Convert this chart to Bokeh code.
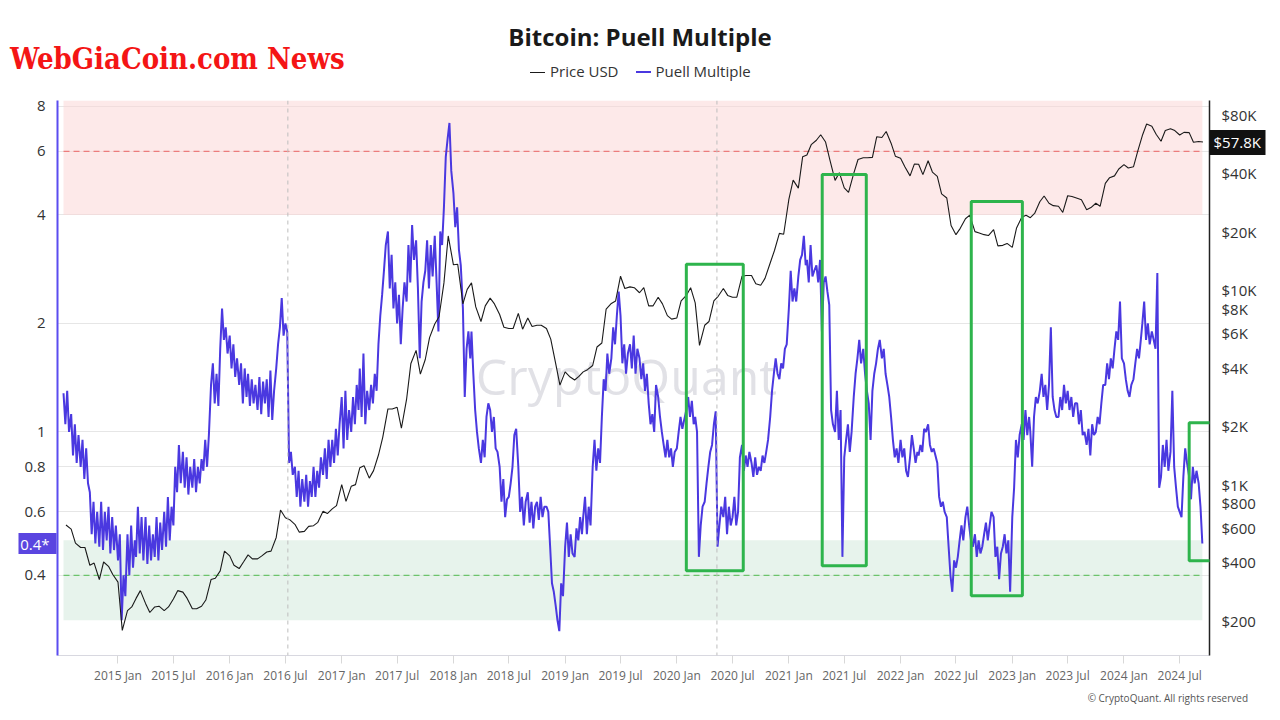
import pandas as pd
from bokeh.plotting import figure
from bokeh.layouts import column
from bokeh.models import (Range1d, LogScale, LogAxis, FixedTicker, BoxAnnotation, Span,
                          Label, Div, DatetimeTickFormatter)
from bokeh.embed import file_html
from bokeh.resources import INLINE

# ---------------- data ----------------
# Puell Multiple, sampled on days 1, 7, 13, 19, 25 of each month (2014-07-07 .. 2024-09-13)
puell_2014 = [1.28, 1.05, 1.30, 1.00,
              1.12, 0.86, 1.05, 0.82, 0.98,
              0.80, 0.95, 0.74, 0.90, 0.72,
              0.68, 0.52, 0.64, 0.49, 0.60,
              0.48, 0.64, 0.47, 0.60, 0.50,
              0.62, 0.46, 0.58, 0.47, 0.55]
puell_2015 = [0.44, 0.52, 0.30, 0.40, 0.35,
              0.52, 0.40, 0.55, 0.42, 0.50,
              0.45, 0.62, 0.46, 0.58, 0.44,
              0.58, 0.43, 0.55, 0.44, 0.52,
              0.45, 0.58, 0.44, 0.56, 0.47,
              0.60, 0.48, 0.66, 0.50, 0.62,
              0.55, 0.80, 0.68, 0.92, 0.72,
              0.88, 0.70, 0.85, 0.67, 0.80,
              0.70, 0.84, 0.68, 0.80, 0.72,
              0.84, 0.78, 0.95, 0.80, 0.98,
              1.35, 1.55, 1.20, 1.45, 1.18,
              1.70, 2.20, 1.80, 1.95, 1.65]
puell_2016 = [1.85, 1.50, 1.75, 1.42, 1.60,
              1.35, 1.55, 1.20, 1.50, 1.25,
              1.45, 1.18, 1.40, 1.20, 1.35,
              1.15, 1.42, 1.12, 1.38, 1.20,
              1.40, 1.10, 1.48, 1.08, 1.30,
              1.50, 1.75, 1.95, 2.35, 1.85,
              2.00, 1.90, 0.82, 0.88, 0.76,
              0.80, 0.66, 0.78, 0.62, 0.74,
              0.64, 0.76, 0.62, 0.73, 0.66,
              0.80, 0.66, 0.78, 0.70, 0.85,
              0.76, 0.90, 0.74, 0.95, 0.80,
              0.95, 0.82, 1.02, 0.86, 1.05]
puell_2017 = [1.25, 0.90, 1.30, 0.95, 1.15,
              1.00, 1.25, 1.05, 1.35, 1.15,
              1.50, 1.10, 1.65, 1.05, 1.30,
              1.15, 1.35, 1.20, 1.45, 1.30,
              1.75, 2.10, 2.40, 2.80, 3.30,
              3.60, 2.50, 3.10, 2.20, 2.60,
              2.00, 2.40, 1.75, 2.20, 2.60,
              2.30, 3.30, 2.60, 3.75, 3.00,
              3.40, 2.50, 1.60, 2.30, 2.60,
              2.80, 3.40, 2.50, 3.30, 2.70,
              3.50, 2.60, 1.90, 3.60, 3.30,
              4.20, 5.80, 6.50, 7.20, 5.30]
puell_2018 = [4.60, 3.70, 4.20, 3.20, 2.90,
              2.20, 1.25, 1.70, 1.90, 1.60,
              1.90, 1.45, 1.15, 1.00, 0.90,
              0.82, 0.95, 0.85, 1.10, 1.20,
              1.15, 1.00, 1.10, 0.90, 0.88,
              0.80, 0.64, 0.74, 0.58, 0.65,
              0.66, 0.72, 0.80, 0.98, 1.02,
              0.80, 0.60, 0.66, 0.55, 0.64,
              0.68, 0.56, 0.64, 0.54, 0.62,
              0.64, 0.57, 0.66, 0.58, 0.62,
              0.62, 0.60, 0.48, 0.38, 0.36,
              0.33, 0.30, 0.28, 0.38, 0.35]
puell_2019 = [0.48, 0.56, 0.45, 0.52, 0.46,
              0.45, 0.54, 0.50, 0.58, 0.52,
              0.58, 0.66, 0.52, 0.62, 0.55,
              0.80, 0.95, 0.78, 0.90, 0.82,
              1.10, 1.40, 1.30, 1.65, 1.45,
              1.60, 1.95, 1.75, 2.10, 2.45,
              2.10, 1.55, 1.75, 1.45, 1.65,
              1.75, 1.50, 1.85, 1.45, 1.70,
              1.60, 1.40, 1.55, 1.30, 1.45,
              1.20, 1.05, 1.12, 1.00, 1.35,
              1.25, 1.10, 1.00, 0.92, 0.85,
              0.95, 0.85, 0.90, 0.80, 0.88]
puell_2020 = [0.90, 1.00, 1.10, 1.02, 1.08,
              1.15, 1.25, 1.10, 1.22, 1.05,
              1.10, 1.00, 0.45, 0.55, 0.62,
              0.64, 0.72, 0.80, 0.88, 0.92,
              1.05, 1.14, 0.48, 0.55, 0.62,
              0.58, 0.66, 0.52, 0.62, 0.55,
              0.58, 0.66, 0.55, 0.60, 0.85,
              0.92, 0.78, 0.86, 0.80, 0.88,
              0.82, 0.75, 0.85, 0.76, 0.80,
              0.78, 0.86, 0.82, 0.88, 0.95,
              1.10, 1.30, 1.45, 1.60, 1.45,
              1.40, 1.55, 1.50, 1.70, 1.75]
puell_2021 = [2.20, 2.80, 2.30, 2.50, 2.30,
              2.70, 3.00, 3.10, 3.50, 2.90,
              3.00, 2.60, 3.30, 2.70, 2.80,
              2.90, 2.60, 3.00, 1.90, 2.60,
              2.70, 2.45, 2.25, 1.15, 1.05,
              1.00, 1.30, 0.95, 1.15, 0.45,
              0.85, 0.95, 1.05, 0.88, 1.00,
              1.25, 1.45, 1.60, 1.80, 1.55,
              1.70, 1.45, 1.30, 1.20, 0.95,
              1.30, 1.45, 1.55, 1.70, 1.80,
              1.60, 1.70, 1.45, 1.35, 1.25,
              1.10, 0.95, 0.85, 0.90, 0.82]
puell_2022 = [0.95, 0.85, 0.90, 0.78, 0.75,
              0.85, 0.98, 0.90, 0.82, 0.88,
              0.86, 0.92, 0.88, 1.02, 1.00,
              1.05, 0.92, 0.88, 0.90, 0.86,
              0.82, 0.66, 0.62, 0.64, 0.60,
              0.58, 0.48, 0.40, 0.36, 0.44,
              0.42, 0.45, 0.50, 0.55, 0.50,
              0.58, 0.62, 0.55, 0.50, 0.48,
              0.52, 0.45, 0.50, 0.46, 0.48,
              0.52, 0.56, 0.50, 0.55, 0.60,
              0.58, 0.45, 0.48, 0.39, 0.46,
              0.48, 0.52, 0.46, 0.50, 0.36]
puell_2023 = [0.58, 0.70, 0.95, 0.85, 0.98,
              1.05, 0.95, 1.15, 0.98, 1.10,
              1.00, 0.80, 1.10, 1.25, 1.20,
              1.30, 1.45, 1.25, 1.35, 1.15,
              1.35, 1.95, 1.25, 1.15, 1.10,
              1.10, 1.25, 1.15, 1.35, 1.20,
              1.30, 1.15, 1.25, 1.10, 1.20,
              1.20, 1.05, 1.15, 0.98, 1.00,
              0.92, 1.02, 0.86, 1.05, 0.98,
              1.00, 1.10, 1.05, 1.20, 1.35,
              1.35, 1.55, 1.40, 1.60, 1.50,
              1.70, 1.90, 1.80, 2.30, 1.60]
puell_2024 = [1.55, 1.40, 1.30, 1.25, 1.35,
              1.40, 1.55, 1.70, 1.60, 1.80,
              2.00, 2.30, 1.80, 2.00, 1.75,
              1.90, 1.80, 1.70, 2.76, 0.70,
              0.75, 0.92, 0.80, 0.95, 0.78,
              0.88, 1.30, 0.80, 0.70, 0.62,
              0.60, 0.58, 0.75, 0.90, 0.82,
              0.75, 0.65, 0.80, 0.72, 0.78,
              0.72, 0.62, 0.49]

# Price USD, sampled on the 1st and 15th of each month (2014-07-15 .. 2024-09-15)
price_2014 = [620, 590, 500, 475, 475, 385, 395, 325, 400, 380, 345]
price_2015 = [315, 178, 225, 235, 260, 285, 245, 220, 235, 237, 225, 235,
              258, 285, 280, 260, 230, 230, 237, 255, 325, 330, 360, 455]
price_2016 = [430, 385, 370, 400, 435, 415, 415, 430, 450, 455, 535, 740,
              675, 660, 625, 570, 575, 610, 615, 640, 730, 710, 750, 780]
price_2017 = [1000, 820, 980, 1000, 1220, 1250, 1080, 1180, 1420, 1750, 2450, 2450,
              2500, 1950, 2750, 4200, 4900, 3700, 4400, 5700, 6700, 7300, 10900, 19000]
price_2018 = [13500, 13600, 8500, 10100, 10900, 8200, 6900, 8300, 9100, 8500, 7500, 6450,
              6350, 6350, 7600, 6300, 7200, 6500, 6600, 6600, 6350, 5600, 4200, 3250]
price_2019 = [3800, 3600, 3450, 3600, 3800, 3900, 4100, 5100, 5350, 8000, 8550, 8800,
              11800, 10200, 10400, 10300, 9700, 10300, 8300, 8300, 9200, 8500, 7400, 7100]
price_2020 = [7200, 8800, 9400, 10300, 8600, 5200, 6600, 6900, 8800, 9300, 10200, 9400,
              9200, 9200, 11800, 11900, 11900, 10800, 10600, 11500, 13800, 16000, 19600, 19400]
price_2021 = [29300, 36800, 33500, 48500, 49600, 56000, 59000, 63000, 57800, 46800, 36700, 40200,
              33600, 31800, 39900, 47000, 48000, 48000, 48200, 61500, 61000, 65500, 57000, 48900]
price_2022 = [47700, 43100, 38700, 44500, 44400, 39300, 46300, 40500, 38500, 31300, 29800, 21500,
              19300, 20800, 23300, 24300, 20000, 19700, 19300, 19100, 20500, 16900, 17000, 17400]
price_2023 = [16600, 20900, 23700, 24300, 23600, 24800, 28500, 30500, 28000, 27200, 27000, 25100,
              30600, 30300, 29700, 29200, 25900, 26600, 28000, 27000, 35400, 37900, 38700, 42000]
price_2024 = [44200, 42500, 43100, 51900, 62400, 71500, 69700, 63400, 58300, 66200, 67700, 66200,
              62800, 64800, 64600, 57600, 58200, 57800]

puell_ticks = [0.4, 0.6, 0.8, 1, 2, 4, 6, 8]
puell_tick_labels = ["0.4", "0.6", "0.8", "1", "2", "4", "6", "8"]
price_ticks = [200, 400, 600, 800, 1000, 2000, 4000, 6000, 8000, 10000, 20000, 40000, 80000]
price_tick_labels = ["$200", "$400", "$600", "$800", "$1K", "$2K", "$4K", "$6K", "$8K",
                     "$10K", "$20K", "$40K", "$80K"]
x_tick_labels = ["2015 Jan", "2015 Jul", "2016 Jan", "2016 Jul", "2017 Jan", "2017 Jul",
                 "2018 Jan", "2018 Jul", "2019 Jan", "2019 Jul", "2020 Jan", "2020 Jul",
                 "2021 Jan", "2021 Jul", "2022 Jan", "2022 Jul", "2023 Jan", "2023 Jul",
                 "2024 Jan", "2024 Jul"]
halving_dates = ["2016-07-09", "2020-05-11"]
red_zone = [4.0, 8.31]        # Puell band (overvalued)
green_zone = [0.3, 0.5]       # Puell band (undervalued)
red_line_level = 6.0
green_line_level = 0.4
current_puell_label = "0.4*"
series_names = ["Price USD", "Puell Multiple"]
# highlighted periods: (start, end, low Puell, high Puell)
highlight_boxes = [("2020-02-01", "2020-08-05", 0.412, 2.92),
                   ("2021-04-20", "2021-09-11", 0.425, 5.18),
                   ("2022-08-20", "2023-02-03", 0.351, 4.36),
                   ("2024-08-01", "2024-10-25", 0.439, 1.06)]


def sample_dates(first, last, days):
    out = []
    y, m = first.year, first.month
    while (y, m) <= (last.year, last.month):
        for d in days:
            t = pd.Timestamp(y, m, d)
            if first <= t <= last:
                out.append(t)
        m += 1
        if m == 13:
            y, m = y + 1, 1
    return out


puell = (puell_2014 + puell_2015 + puell_2016 + puell_2017 + puell_2018 + puell_2019 +
         puell_2020 + puell_2021 + puell_2022 + puell_2023 + puell_2024)
price = (price_2014 + price_2015 + price_2016 + price_2017 + price_2018 + price_2019 +
         price_2020 + price_2021 + price_2022 + price_2023 + price_2024)
puell_dates = sample_dates(pd.Timestamp("2014-07-07"), pd.Timestamp("2024-09-13"), [1, 7, 13, 19, 25])
price_dates = sample_dates(pd.Timestamp("2014-07-15"), pd.Timestamp("2024-09-15"), [1, 15])
n1 = min(len(puell), len(puell_dates))
n2 = min(len(price), len(price_dates))
puell, puell_dates = puell[:n1], puell_dates[:n1]
price, price_dates = price[:n2], price_dates[:n2]


def ms(t):
    return pd.Timestamp(t).value / 1e6


PUELL_C = "#4a38e0"
PRICE_C = "#1a1a1a"
FONT = "Open Sans"
W = 1272
x_start = pd.Timestamp("2014-06-17 08:00")
x_end = pd.Timestamp("2024-10-06 10:00")

# ---------------- header (brand, title, legend) ----------------
header_html = f"""
<div style="position:relative;width:{W}px;height:90px;">
  <div style="position:absolute;left:10px;top:41px;font-family:'DejaVu Serif';font-stretch:condensed;
       font-weight:bold;font-size:29px;line-height:36px;color:#f41515;white-space:nowrap;">WebGiaCoin.com News</div>
  <div style="position:absolute;left:0;top:20px;width:1280px;text-align:center;font-family:'{FONT}';
       font-weight:bold;font-size:24px;line-height:34px;color:#1a1a1a;white-space:nowrap;">Bitcoin: Puell Multiple</div>
  <div style="position:absolute;left:530px;top:62px;height:20px;display:flex;align-items:center;
       font-family:'{FONT}';font-size:15px;color:#333333;white-space:nowrap;">
    <span style="display:inline-block;width:15px;height:0;border-top:1.3px solid {PRICE_C};margin-right:5px;"></span><span>{series_names[0]}</span>
    <span style="display:inline-block;width:15px;height:0;border-top:2px solid {PUELL_C};margin-left:17px;margin-right:5px;"></span><span>{series_names[1]}</span>
  </div>
</div>"""
header = Div(text=header_html, width=W, height=90, margin=0)

# ---------------- main chart ----------------
p = figure(width=W, height=596, x_axis_type="datetime", y_axis_type="log",
           x_range=Range1d(x_start, x_end), y_range=Range1d(0.2396, 8.31),
           output_backend="svg", toolbar_location=None, title=None,
           min_border_left=57, min_border_right=63, min_border_top=10, min_border_bottom=30)
p.outline_line_color = None
p.background_fill_color = "white"
p.border_fill_color = "white"

p.extra_y_ranges = {"price": Range1d(132.2, 94500)}
p.extra_y_scales = {"price": LogScale()}

p.xgrid.grid_line_color = None
p.ygrid.ticker = FixedTicker(ticks=puell_ticks)
p.ygrid.grid_line_color = "#e6e6e6"

start_ms, end_ms = ms(puell_dates[0]), ms(puell_dates[-1])
p.add_layout(BoxAnnotation(left=start_ms, right=end_ms, bottom=red_zone[0], top=red_zone[1],
                           fill_color="#fbd3d3", fill_alpha=0.5, line_color=None, level="underlay"))
p.add_layout(BoxAnnotation(left=start_ms, right=end_ms, bottom=green_zone[0], top=green_zone[1],
                           fill_color="#cfe8da", fill_alpha=0.5, line_color=None, level="underlay"))
p.add_layout(Label(x=569, y=280, x_units="screen", y_units="screen", text="CryptoQuant",
                   text_align="center", text_baseline="middle", text_font=FONT,
                   text_font_size="50px", text_color="#d4d4dc", text_alpha=0.7, level="underlay"))

for hd in halving_dates:
    p.add_layout(Span(location=ms(hd), dimension="height", line_color="#bdbdbd",
                      line_dash="4 4", line_width=1))

p.line([puell_dates[0], puell_dates[-1]], [red_line_level, red_line_level],
       line_color="#ec7c7c", line_dash="6 4", line_width=1.2)
p.line([puell_dates[0], puell_dates[-1]], [green_line_level, green_line_level],
       line_color="#6cc46c", line_dash="6 4", line_width=1.2)

r_puell = p.line(puell_dates, puell, line_color=PUELL_C, line_width=2.0)
r_price = p.line(price_dates, price, y_range_name="price", line_color=PRICE_C, line_width=1.1)

for (a, b, lo, hi) in highlight_boxes:
    p.add_layout(BoxAnnotation(left=ms(a), right=ms(b), bottom=lo, top=hi, fill_alpha=0,
                               fill_color=None, line_color="#2eb44c", line_alpha=1.0,
                               line_width=3))

# left axis (Puell)
ly = p.yaxis[0]
ly.ticker = FixedTicker(ticks=puell_ticks)
ly.major_label_overrides = dict(zip(puell_ticks, puell_tick_labels))
ly.axis_line_color = "#5b4cf0"
ly.axis_line_width = 2
ly.major_tick_line_color = None
ly.major_tick_out = 0
ly.major_tick_in = 0
ly.minor_tick_line_color = None
ly.minor_tick_out = 0
ly.major_label_standoff = 12
ly.major_label_text_font = FONT
ly.major_label_text_font_size = "15px"
ly.major_label_text_color = "#333333"

# right axis (price)
ry = LogAxis(y_range_name="price", ticker=FixedTicker(ticks=price_ticks),
             major_label_overrides=dict(zip(price_ticks, price_tick_labels)))
ry.axis_line_color = "#222222"
ry.axis_line_width = 1.5
ry.major_tick_line_color = None
ry.major_tick_out = 0
ry.major_tick_in = 0
ry.minor_tick_line_color = None
ry.minor_tick_out = 0
ry.major_label_standoff = 12
ry.major_label_text_font = FONT
ry.major_label_text_font_size = "15px"
ry.major_label_text_color = "#333333"
p.add_layout(ry, "right")

# value tags: single-tick axes stacked outside the main axes; a thick tick forms the box
tag_r = LogAxis(y_range_name="price", ticker=FixedTicker(ticks=[price[-1]]),
                major_label_overrides={price[-1]: "$%.1fK" % (price[-1] / 1000.0)})
tag_r.axis_line_color = None
tag_r.minor_tick_line_color = None
tag_r.minor_tick_out = 0
tag_r.major_tick_in = 50
tag_r.major_tick_out = 6
tag_r.major_tick_line_width = 25
tag_r.major_tick_line_color = "#111111"
tag_r.major_tick_line_cap = "butt"
tag_r.major_label_standoff = -52
tag_r.major_label_text_font = FONT
tag_r.major_label_text_font_size = "15px"
tag_r.major_label_text_color = "white"
p.add_layout(tag_r, "right")

tag_l = LogAxis(ticker=FixedTicker(ticks=[puell[-1]]),
                major_label_overrides={puell[-1]: current_puell_label})
tag_l.axis_line_color = None
tag_l.minor_tick_line_color = None
tag_l.minor_tick_out = 0
tag_l.major_tick_in = 35
tag_l.major_tick_out = 3
tag_l.major_tick_line_width = 21
tag_l.major_tick_line_color = "#5a45e0"
tag_l.major_tick_line_cap = "butt"
tag_l.major_label_standoff = -31
tag_l.major_label_text_font = FONT
tag_l.major_label_text_font_size = "15px"
tag_l.major_label_text_color = "white"
p.add_layout(tag_l, "left")

# bottom axis
x_ticks = [ms(pd.to_datetime(s, format="%Y %b")) for s in x_tick_labels]
bx = p.xaxis[0]
bx.ticker = FixedTicker(ticks=x_ticks)
fmt = "%Y %b"
bx.formatter = DatetimeTickFormatter(microseconds=fmt, milliseconds=fmt, seconds=fmt, minsec=fmt,
                                     minutes=fmt, hourmin=fmt, hours=fmt, days=fmt, months=fmt,
                                     years=fmt)
bx.axis_line_color = "#d8d8e0"
bx.major_tick_line_color = "#d8d8d8"
bx.major_tick_in = 0
bx.major_tick_out = 8
bx.minor_tick_line_color = None
bx.minor_tick_out = 0
bx.major_label_standoff = 3
bx.major_label_text_font = FONT
bx.major_label_text_font_size = "12px"
bx.major_label_text_color = "#666666"

# ---------------- footer ----------------
footer_html = f"""
<div style="position:relative;width:{W}px;height:26px;">
  <div style="position:absolute;right:24px;top:6px;font-family:'{FONT}';font-size:10px;line-height:12px;
       color:#555555;white-space:nowrap;">\u00a9 CryptoQuant. All rights reserved</div>
</div>"""
footer = Div(text=footer_html, width=W, height=26, margin=0)

layout = column(header, p, footer, spacing=0)
open("out.html", "w").write(file_html(layout, INLINE))
